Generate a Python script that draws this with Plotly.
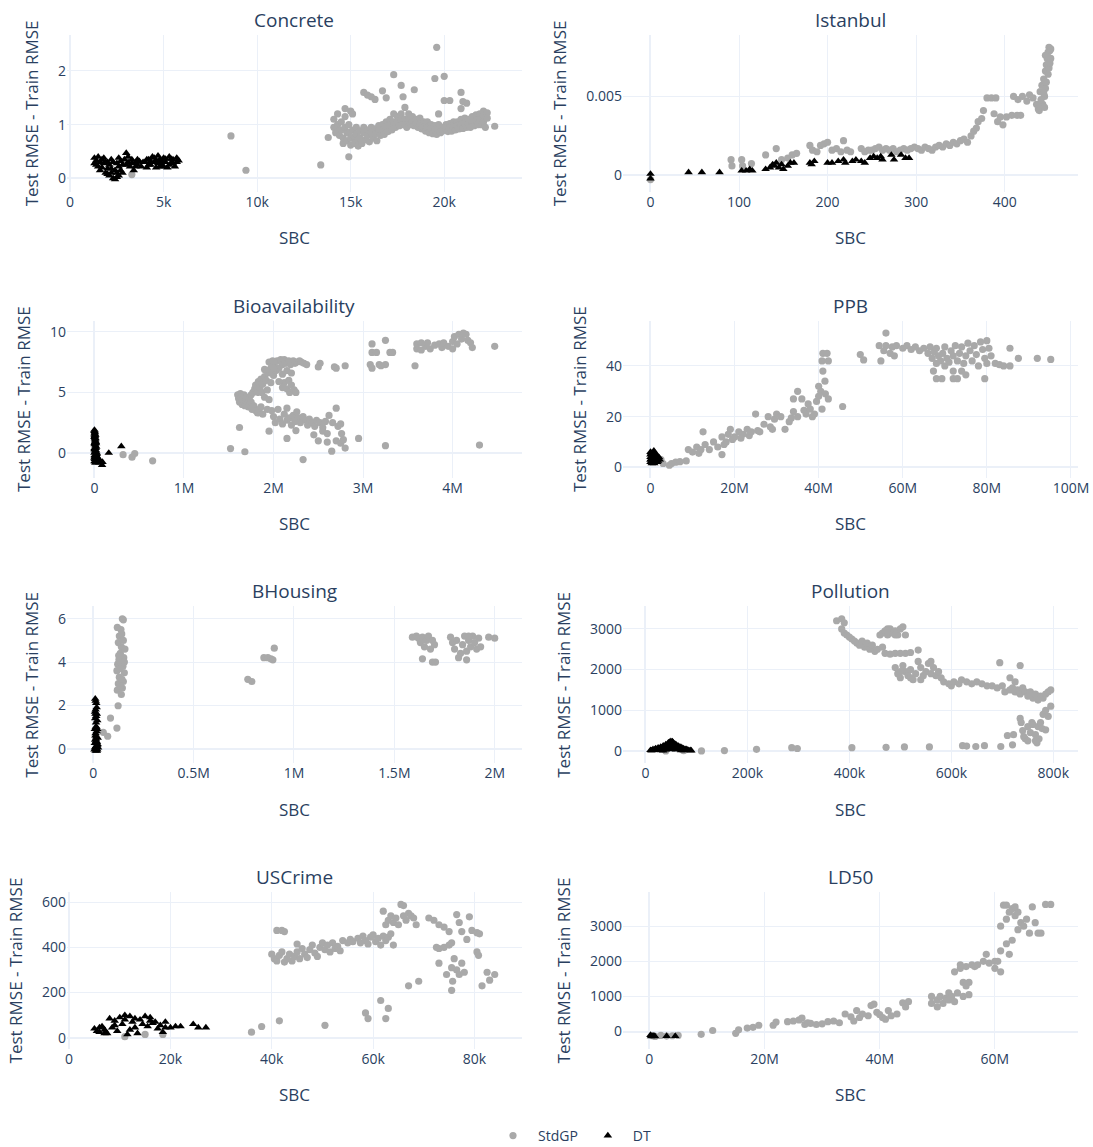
import plotly.graph_objects as go
from plotly.subplots import make_subplots

# (SBC, Test RMSE - Train RMSE) pairs per dataset and method

concrete_gp = [
    (3300, 0.07), (8600, 0.79), (9400, 0.15), (13400, 0.25), (13800, 0.76), (14600, 0.65), (14900, 0.40),
    (14700, 1.30), (15000, 1.25), (15700, 1.60), (15900, 1.55), (16100, 1.52), (16300, 1.47), (16700, 1.63),
    (16900, 1.50), (17300, 1.93), (17700, 1.73), (17800, 1.52), (17900, 1.32), (18400, 1.65), (19500, 1.86),
    (19600, 2.44), (20000, 1.90), (19700, 1.20), (20000, 1.45), (20300, 1.45), (20900, 1.60), (21000, 1.43),
    (21200, 1.40), (20900, 1.30), (22700, 0.97),
    (14100, 1.10), (14100, 0.95), (14200, 0.85), (14300, 1.20), (14300, 1.00), (14400, 0.90), (14400, 0.80),
    (14500, 1.05), (14500, 0.90), (14600, 0.75), (14700, 1.15), (14700, 0.95), (14800, 0.85), (14800, 0.70),
    (14900, 1.00), (14900, 0.85), (15000, 0.75), (15000, 0.62), (15100, 1.20), (15100, 0.90), (15200, 0.78),
    (15200, 0.65), (15300, 0.95), (15300, 0.82), (15400, 0.70), (15400, 0.60), (15500, 0.88), (15500, 0.75),
    (15600, 0.65), (15700, 0.95), (15700, 0.85), (15800, 0.72), (15900, 0.90), (15900, 0.80), (16000, 0.68),
    (16100, 0.95), (16100, 0.85), (16200, 0.75), (16300, 0.92), (16300, 0.82), (16400, 0.70), (16500, 0.98),
    (16500, 0.88), (16600, 0.80), (16700, 1.00), (16700, 0.90), (16800, 0.82), (16900, 1.05), (16900, 0.95),
    (17000, 0.87), (17100, 1.10), (17100, 1.00), (17200, 0.90), (17300, 1.20), (17300, 1.05), (17400, 0.95),
    (17500, 1.15), (17500, 1.05), (17600, 0.98), (17700, 1.20), (17700, 1.10), (17800, 1.00), (17900, 1.10),
    (17900, 1.00), (18000, 0.95), (18100, 1.20), (18100, 1.08), (18200, 1.00), (18300, 1.15), (18300, 1.05),
    (18400, 0.98), (18500, 1.10), (18500, 1.02), (18600, 0.95), (18700, 1.12), (18700, 1.00), (18800, 0.92),
    (18900, 1.05), (18900, 0.95), (19000, 0.88), (19100, 1.05), (19100, 0.95), (19200, 0.85), (19300, 1.00),
    (19300, 0.92), (19400, 0.83), (19500, 0.98), (19500, 0.90), (19600, 0.82), (19700, 1.00), (19700, 0.92),
    (19800, 0.85), (19900, 0.95), (19900, 0.88), (20100, 1.00), (20100, 0.93), (20200, 0.87), (20300, 1.02),
    (20300, 0.95), (20400, 0.88), (20500, 1.05), (20500, 0.97), (20600, 0.90), (20700, 1.05), (20700, 0.98),
    (20800, 0.92), (20900, 1.10), (20900, 1.00), (21000, 0.93), (21100, 1.12), (21100, 1.03), (21200, 0.95),
    (21300, 1.10), (21300, 1.00), (21400, 0.95), (21500, 1.15), (21500, 1.05), (21600, 0.98), (21700, 1.18),
    (21700, 1.08), (21800, 1.00), (21900, 1.20), (21900, 1.10), (22000, 1.00), (22100, 1.25), (22100, 1.15),
    (22100, 1.05), (22200, 0.95), (22300, 1.22), (22300, 1.12),
]
concrete_dt = [
    (1300, 0.38), (1500, 0.40), (1400, 0.25), (1600, 0.30), (1700, 0.20), (1800, 0.38), (1900, 0.10),
    (2000, 0.30), (2100, 0.05), (2200, 0.35), (2200, 0.18), (2300, 0.00), (2400, -0.02), (2500, 0.10),
    (2500, 0.28), (2600, 0.38), (2700, 0.15), (2800, 0.25), (2900, 0.35), (3000, 0.47), (3100, 0.30),
    (3200, 0.22), (3300, 0.35), (3400, 0.15), (3500, 0.30), (3600, 0.25), (3700, 0.32), (3800, 0.22),
    (4000, 0.30), (4200, 0.35), (4300, 0.25), (4400, 0.40), (4500, 0.30), (4600, 0.20), (4700, 0.42),
    (4800, 0.35), (4900, 0.25), (5000, 0.38), (5100, 0.30), (5200, 0.20), (5300, 0.40), (5400, 0.28),
    (5500, 0.35), (5600, 0.22), (5700, 0.38), (5800, 0.33), (1600, 0.15), (2000, 0.08), (1800, 0.28),
    (2700, 0.32), (4100, 0.20), (4600, 0.33), (5000, 0.22),
    (1400, 0.33), (1500, 0.22), (1700, 0.35), (1900, 0.30), (2000, 0.18), (2100, 0.25), (2300, 0.30),
    (2400, 0.15), (2600, 0.05), (2600, 0.22), (2800, 0.10), (3000, 0.25), (3100, 0.40), (3300, 0.28),
    (3500, 0.22), (3900, 0.30), (4100, 0.35), (4300, 0.32), (4500, 0.38), (4700, 0.28), (4900, 0.32),
    (5100, 0.36), (5300, 0.25), (5500, 0.28), (5700, 0.30), (1300, 0.28), (2200, 0.10), (2500, 0.02),
    (3600, 0.35), (4200, 0.25), (4800, 0.22), (5400, 0.36),
]

istanbul_gp = [
    (0, -0.00026), (91, 0.0010), (92, 0.0006), (103, 0.0010), (104, 0.0006), (114, 0.00075), (130, 0.0013),
    (142, 0.0017), (148, 0.0010), (155, 0.0011), (160, 0.0013), (165, 0.0014), (180, 0.0019), (183, 0.0016),
    (188, 0.0015), (192, 0.0019), (196, 0.0020), (200, 0.0021), (205, 0.0016), (210, 0.0017), (215, 0.0015),
    (218, 0.0022), (222, 0.0016), (226, 0.0015), (238, 0.0017), (242, 0.0015), (246, 0.0016), (250, 0.0016),
    (254, 0.0017), (258, 0.0018), (262, 0.0016), (266, 0.0017), (270, 0.0016), (274, 0.0017), (278, 0.0015),
    (282, 0.0016), (286, 0.0017), (290, 0.0016), (294, 0.0017), (298, 0.0018), (302, 0.0017), (306, 0.0016),
    (310, 0.0018), (314, 0.0017), (318, 0.0016), (322, 0.0018), (326, 0.0019), (330, 0.0018), (334, 0.0020),
    (338, 0.0019), (342, 0.0021), (346, 0.0020), (350, 0.0022), (354, 0.0023), (358, 0.0021), (362, 0.0025),
    (365, 0.0028), (368, 0.0030), (370, 0.0034), (374, 0.0036), (376, 0.0041), (380, 0.0049), (385, 0.0049),
    (390, 0.0049), (388, 0.0039), (392, 0.0034), (395, 0.0037), (398, 0.0032), (402, 0.0037), (408, 0.0038),
    (414, 0.0038), (418, 0.0038), (410, 0.0050), (415, 0.0048), (420, 0.0050), (425, 0.0047), (428, 0.0051),
    (432, 0.0049), (436, 0.0045), (438, 0.0042), (440, 0.0044), (440, 0.0053), (442, 0.0057), (444, 0.0061),
    (445, 0.0050), (446, 0.0066), (447, 0.0070), (448, 0.0074), (449, 0.0078), (450, 0.0081), (451, 0.0079),
    (446, 0.0055), (443, 0.0045), (450, 0.0068), (452, 0.0074), (441, 0.0048), (444, 0.0052), (447, 0.0059),
    (449, 0.0064), (451, 0.0071), (446, 0.0076), (452, 0.0080), (439, 0.0041), (445, 0.0043),
]
istanbul_dt = [
    (0, 0.0001), (0, -0.0002), (43, 0.0002), (58, 0.0002), (78, 0.0002), (103, 0.0003), (108, 0.0003),
    (112, 0.0004), (115, 0.0003), (130, 0.0004), (135, 0.0005), (138, 0.0007), (140, 0.0006), (142, 0.0008),
    (145, 0.0005), (148, 0.0007), (150, 0.0004), (155, 0.0006), (158, 0.0008), (162, 0.0008), (180, 0.0008),
    (182, 0.0007), (185, 0.0009), (200, 0.0008), (205, 0.0008), (212, 0.0009), (218, 0.0010), (220, 0.0008),
    (228, 0.0009), (232, 0.0010), (238, 0.0009), (242, 0.0008), (248, 0.0011), (252, 0.0012), (256, 0.0011),
    (260, 0.0012), (262, 0.0010), (272, 0.0013), (275, 0.0010), (283, 0.0013), (288, 0.0011), (292, 0.0011),
]

bioavailability_gp = [
    (320000, -0.14), (420000, -0.35), (450000, -0.05), (650000, -0.65), (1520000, 0.36), (1680000, 0.10),
    (1620000, 2.10), (1950000, 1.80), (2150000, 1.20), (2250000, 1.85), (2330000, -0.55), (2500000, 1.00),
    (2600000, 0.90), (2650000, 0.15), (2700000, 1.00), (2750000, 0.80), (2780000, 1.10), (2800000, 0.40),
    (2950000, 1.20), (3250000, 0.60), (4300000, 0.65), (4470000, 8.80),
    (1600000, 4.8), (1610000, 4.5), (1620000, 4.2), (1630000, 4.9), (1640000, 4.6), (1650000, 4.0),
    (1660000, 4.4), (1670000, 4.8), (1680000, 3.9), (1690000, 4.3), (1700000, 4.6), (1710000, 4.1),
    (1720000, 3.8), (1730000, 4.4), (1740000, 4.0), (1750000, 4.2), (1760000, 3.6), (1780000, 3.9),
    (1800000, 3.5), (1820000, 3.3), (1840000, 3.6), (1860000, 3.8), (1880000, 3.2),
    (1750000, 4.8), (1770000, 5.0), (1790000, 5.3), (1800000, 5.6), (1820000, 5.0), (1830000, 5.9),
    (1850000, 5.4), (1860000, 6.1), (1870000, 5.0), (1880000, 5.7), (1900000, 6.3), (1900000, 4.6),
    (1920000, 6.0), (1930000, 5.2), (1940000, 6.6), (1950000, 4.4), (1960000, 6.9), (1970000, 5.8),
    (1980000, 7.2), (2000000, 6.4), (2010000, 7.4), (2030000, 6.8), (2040000, 7.6), (2060000, 7.0),
    (2080000, 7.7), (2100000, 7.3), (2100000, 6.5), (2120000, 7.7), (2140000, 7.4), (2150000, 6.8),
    (2170000, 7.6), (2190000, 7.3), (2200000, 6.6), (2220000, 7.6), (2240000, 7.4), (2260000, 7.5),
    (2290000, 7.6), (2310000, 7.5), (2340000, 7.4), (2370000, 7.3), (2500000, 7.1), (2520000, 7.4),
    (2680000, 7.1), (2700000, 7.0), (2800000, 7.2), (1950000, 7.5), (1990000, 7.6), (2000000, 7.0),
    (1900000, 6.9),
    (2120000, 5.8), (2150000, 5.3), (2170000, 6.0), (2180000, 5.0), (2200000, 5.6), (2230000, 5.2),
    (2250000, 5.0), (2100000, 5.4), (2060000, 5.9),
    (1930000, 3.6), (1980000, 3.5), (2000000, 3.0), (2020000, 2.5), (2050000, 3.6), (2070000, 2.8),
    (2100000, 2.4), (2120000, 3.2), (2150000, 3.7), (2150000, 2.7), (2180000, 2.9), (2200000, 2.3),
    (2220000, 3.1), (2240000, 2.6), (2260000, 3.4), (2280000, 2.9), (2300000, 2.5), (2330000, 3.0),
    (2360000, 2.7), (2380000, 2.3), (2400000, 2.8), (2430000, 2.5), (2460000, 2.2), (2480000, 2.7),
    (2520000, 2.5), (2550000, 2.1), (2580000, 2.6), (2620000, 3.1), (2660000, 2.5), (2700000, 3.7),
    (2720000, 2.2), (2750000, 2.4), (2760000, 1.6), (2600000, 1.6), (2550000, 1.8), (2450000, 1.5),
    (3100000, 9.0), (3100000, 8.3), (3080000, 7.3), (3100000, 7.0), (3150000, 8.3), (3180000, 7.3),
    (3200000, 7.2), (3250000, 9.3), (3250000, 7.3), (3300000, 8.3), (3330000, 8.3), (3580000, 7.2),
    (3600000, 8.6), (3600000, 9.0), (3650000, 8.5), (3650000, 9.1), (3700000, 8.8), (3720000, 9.1),
    (3750000, 8.6), (3800000, 8.9), (3850000, 9.0), (3880000, 8.7), (3900000, 9.1), (3950000, 8.8),
    (4000000, 8.6), (4000000, 9.2), (4020000, 9.6), (4050000, 9.0), (4070000, 9.8), (4100000, 9.4),
    (4120000, 9.9), (4150000, 9.8), (4170000, 9.3), (4200000, 9.1), (4220000, 8.7),
]
bioavailability_dt = [
    (0, 1.9), (5000, 1.7), (10000, 1.5), (0, 1.3), (8000, 1.1), (15000, 0.9), (5000, 0.7), (20000, 0.5),
    (0, 0.3), (10000, 0.1), (25000, -0.1), (5000, -0.3), (15000, -0.5), (30000, -0.6), (0, -0.7),
    (40000, -0.75), (60000, -0.7), (90000, -0.75), (85000, -1.0), (160000, 0.0), (300000, 0.55),
    (12000, 1.2), (3000, 0.4), (20000, -0.2), (8000, -0.8), (2000, 1.6), (18000, 0.2), (35000, -0.4),
    (50000, -0.6), (0, 1.8), (3000, 1.5), (6000, 1.2), (9000, 0.9), (12000, 0.6), (0, 0.0), (4000, -0.5),
    (7000, 0.2), (11000, -0.3), (14000, 0.4), (17000, 0.8), (22000, -0.6), (26000, 0.0), (30000, -0.3),
    (45000, -0.5), (55000, -0.8), (70000, -0.7), (10000, 1.0), (2000, -0.2), (0, 0.8), (5000, 1.4),
    (0, -0.4), (20000, -0.8),
]

ppb_gp = [
    (2500000, 3.0), (3000000, 1.5), (4500000, 0.8), (5000000, 1.5), (6000000, 2.0), (7000000, 2.2),
    (8500000, 2.5), (9000000, 7.0), (10000000, 6.0), (11000000, 8.0), (11500000, 5.5), (12000000, 7.0),
    (12500000, 14.0), (13000000, 9.0), (14000000, 7.0), (15000000, 10.0), (16000000, 8.0), (17000000, 5.0),
    (17000000, 12.0), (17500000, 9.0), (18000000, 10.0), (18500000, 13.0), (19000000, 15.0),
    (19500000, 11.0), (20000000, 12.0), (21000000, 14.0), (21500000, 11.5), (22000000, 13.0),
    (23000000, 15.0), (23500000, 12.5), (24000000, 14.0), (25000000, 21.0), (25500000, 14.5),
    (26000000, 14.0), (27000000, 17.0), (28000000, 20.0), (28500000, 16.0), (29000000, 15.0),
    (29500000, 19.0), (30000000, 21.0), (31000000, 20.0), (32000000, 15.0), (33000000, 18.0),
    (33500000, 19.5), (34000000, 22.0), (34000000, 27.0), (35000000, 30.0), (35000000, 20.0),
    (36000000, 27.0), (36500000, 22.5), (37000000, 21.0), (37500000, 25.0), (38000000, 23.0),
    (38500000, 20.0), (39000000, 21.0), (39500000, 26.0), (40000000, 28.0), (40000000, 32.0),
    (40500000, 30.0), (40800000, 42.0), (41000000, 45.0), (41000000, 38.0), (41500000, 34.0),
    (42000000, 45.0), (42300000, 42.0), (42300000, 27.0), (40800000, 23.0), (41600000, 29.0),
    (45700000, 24.0), (49900000, 44.5), (50700000, 42.4), (56000000, 53.0), (54800000, 42.0),
    (54400000, 48.0), (56000000, 48.0), (57500000, 47.5), (58500000, 48.0), (55500000, 46.0),
    (57000000, 45.0), (58000000, 44.0),
    (60000000, 47.0), (61000000, 48.0), (62000000, 46.5), (63000000, 47.5), (64000000, 46.0),
    (65000000, 47.0), (66000000, 45.0), (66500000, 47.5), (67000000, 43.0), (67500000, 45.5),
    (68000000, 41.0), (68000000, 47.0), (68500000, 44.0), (69000000, 42.0), (69500000, 45.0),
    (70000000, 40.0), (70000000, 47.5), (70500000, 43.0), (71000000, 41.5), (71500000, 46.0),
    (72000000, 44.0), (72500000, 48.0), (73000000, 42.0), (73500000, 45.0), (74000000, 47.5),
    (74500000, 41.0), (75000000, 44.0), (75500000, 49.0), (76000000, 46.0), (76500000, 42.0),
    (77000000, 48.0), (77500000, 44.5), (78000000, 40.0), (78500000, 49.5), (79000000, 46.5),
    (79500000, 43.0), (80000000, 50.0), (80500000, 47.0), (81000000, 44.0), (80000000, 41.0),
    (82000000, 41.0), (83000000, 40.5), (84000000, 40.0), (85500000, 47.0), (85500000, 40.0),
    (87500000, 43.0), (92000000, 43.0), (95200000, 42.6),
    (67300000, 38.0), (68000000, 35.0), (69300000, 35.0), (72000000, 35.0), (73000000, 35.0),
    (72000000, 38.0), (74000000, 38.0), (79500000, 35.0), (75000000, 36.5),
]
ppb_dt = [
    (0, 2.0), (0, 4.0), (0, 6.0), (500000, 5.0), (500000, 3.0), (1000000, 4.5), (1000000, 2.0),
    (1500000, 3.5), (2000000, 4.0), (300000, 1.5), (800000, 6.5), (200000, 5.5), (1200000, 3.0),
    (600000, 2.5), (1800000, 2.5), (300000, 3.5), (700000, 4.0), (1300000, 5.0), (100000, 3.0),
    (900000, 1.5), (1600000, 2.0), (400000, 4.5), (1100000, 5.5), (0, 3.0), (0, 5.0), (2200000, 3.0),
    (1700000, 4.5),
]

bhousing_gp = [
    (50000, 0.75), (72000, 0.57), (86000, 1.41), (118000, 0.95), (124000, 1.98),
    (120000, 2.7), (125000, 3.0), (130000, 3.3), (118000, 3.6), (122000, 3.9), (128000, 4.1), (135000, 4.4),
    (140000, 4.7), (125000, 4.9), (130000, 5.2), (138000, 5.5), (120000, 5.6), (145000, 6.0), (150000, 5.95),
    (140000, 2.5), (145000, 2.8), (150000, 3.1), (155000, 3.5), (148000, 3.8), (152000, 4.2), (158000, 4.6),
    (150000, 5.0), (142000, 5.3), (132000, 3.7), (138000, 4.0), (127000, 4.3), (143000, 3.2), (155000, 4.0),
    (135000, 2.9),
    (770000, 3.2), (790000, 3.1), (850000, 4.2), (870000, 4.2), (885000, 4.15), (895000, 4.1), (902000, 4.64),
    (1590000, 5.15), (1610000, 5.2), (1620000, 5.1), (1630000, 4.9), (1640000, 5.15), (1650000, 4.7),
    (1660000, 5.0), (1670000, 5.2), (1680000, 4.6), (1690000, 5.0), (1700000, 4.8), (1640000, 4.15),
    (1690000, 4.0), (1705000, 4.0),
    (1780000, 5.15), (1790000, 4.9), (1800000, 4.6), (1810000, 5.0), (1820000, 4.2), (1830000, 4.4),
    (1840000, 4.8), (1850000, 5.2), (1860000, 4.5), (1870000, 5.0), (1880000, 4.7), (1890000, 5.2),
    (1900000, 4.9), (1910000, 4.6), (1920000, 5.1), (1930000, 4.7), (1860000, 4.1), (1870000, 5.2),
    (1970000, 5.15), (2000000, 5.1),
]
bhousing_dt = [
    (10000, 2.3), (15000, 2.1), (12000, 1.8), (18000, 1.6), (10000, 1.4), (14000, 1.2), (20000, 0.9),
    (12000, 0.7), (16000, 0.55), (10000, 0.4), (18000, 0.3), (14000, 0.1), (12000, -0.1), (20000, -0.05),
    (8000, 0.25), (22000, 0.5), (15000, 1.5), (16000, 0.0), (12000, 2.2), (17000, 1.9), (9000, 1.7),
    (20000, 1.3), (13000, 1.0), (17000, 0.8), (8000, 0.9), (11000, 0.6), (19000, 0.15), (9000, 0.05),
    (22000, 0.2), (15000, 0.35), (24000, 0.05), (6000, -0.05), (18000, -0.1), (13000, 0.45), (11000, 1.6),
    (16000, 1.0),
]

pollution_gp = [
    (40000, 0), (75000, 5), (110000, 0), (155000, 10), (218000, 40), (287000, 80), (298000, 60),
    (405000, 80), (472000, 90), (508000, 100), (557000, 100), (622000, 130), (630000, 120), (648000, 110),
    (665000, 130), (697000, 110),
    (710000, 380), (720000, 150), (722000, 400), (735000, 800), (737000, 700), (740000, 500), (742000, 350),
    (745000, 300), (750000, 600), (755000, 450), (758000, 700), (760000, 650), (765000, 400), (768000, 200),
    (770000, 600), (772000, 300), (775000, 700), (778000, 550), (785000, 520), (780000, 900), (785000, 1000),
    (790000, 850), (795000, 1100), (765000, 250), (750000, 250),
    (375000, 3200), (385000, 3250), (390000, 3150), (385000, 3000), (390000, 2900), (395000, 2850),
    (400000, 2800), (405000, 2750), (410000, 2700), (415000, 2650), (420000, 2600), (425000, 2700),
    (430000, 2550), (435000, 2650), (440000, 2500), (445000, 2600), (450000, 2450), (455000, 2500),
    (465000, 2550),
    (460000, 2850), (465000, 2900), (470000, 2950), (475000, 2850), (480000, 3000), (485000, 2900),
    (490000, 2950), (495000, 2850), (500000, 3000), (505000, 3050), (510000, 2850), (475000, 3000),
    (490000, 2850),
    (470000, 2400), (480000, 2380), (490000, 2400), (500000, 2400), (510000, 2400), (520000, 2420),
    (535000, 2480),
    (490000, 2050), (495000, 1900), (500000, 1800), (505000, 2100), (510000, 1950), (515000, 1850),
    (520000, 2000), (525000, 1750), (530000, 1900), (535000, 2200), (540000, 2050), (545000, 1850),
    (550000, 1950), (555000, 2150), (560000, 1900), (565000, 2050), (570000, 1850), (575000, 1950),
    (580000, 1800), (540000, 1750), (520000, 1800), (560000, 2200), (500000, 1950),
    (585000, 1700), (595000, 1650), (600000, 1600), (605000, 1700), (615000, 1650), (620000, 1750),
    (630000, 1700), (640000, 1650), (650000, 1700), (660000, 1650), (670000, 1600), (680000, 1600),
    (690000, 1550), (700000, 1600), (705000, 1450), (715000, 1500), (720000, 1550), (725000, 1450),
    (730000, 1500), (735000, 1400), (740000, 1550), (745000, 1450), (750000, 1350), (755000, 1450),
    (760000, 1300), (765000, 1400), (770000, 1250), (775000, 1350), (780000, 1300), (785000, 1400),
    (790000, 1450), (795000, 1500),
    (695000, 2170), (735000, 2100), (715000, 1800), (725000, 1700),
]
pollution_dt = [
    (10000, 20), (15000, 40), (20000, 60), (25000, 80), (30000, 100), (35000, 130), (40000, 160),
    (45000, 200), (50000, 240), (55000, 200), (60000, 160), (65000, 120), (70000, 90), (75000, 60),
    (80000, 40), (85000, 20), (90000, 10), (20000, 20), (30000, 40), (40000, 60), (50000, 80), (60000, 60),
    (70000, 40), (80000, 20), (35000, 10), (55000, 120), (45000, 100), (25000, 30), (65000, 50),
    (75000, 15), (50000, 170), (12000, 10), (18000, 30), (22000, 45), (28000, 60), (32000, 75),
    (38000, 110), (42000, 140), (48000, 180), (52000, 210), (58000, 170), (62000, 130), (68000, 100),
    (72000, 70), (78000, 45), (82000, 30), (88000, 15), (30000, 15), (40000, 30), (50000, 40), (60000, 30),
    (70000, 15), (45000, 150), (55000, 160), (40000, 120), (60000, 110), (35000, 70), (65000, 80),
    (50000, 130), (47000, 220), (53000, 230),
]

uscrime_gp = [
    (11000, 5), (15000, 15), (18500, 15), (36000, 25), (38000, 50), (41500, 75), (50500, 55), (58500, 110),
    (59000, 85), (61500, 165), (62500, 85), (63000, 130), (67000, 230), (69000, 250), (41000, 475),
    (42000, 475), (42500, 470), (45000, 415),
    (40000, 370), (40500, 350), (41000, 340), (41500, 365), (42000, 380), (42500, 335), (43000, 350),
    (43500, 370), (44000, 340), (44500, 360), (45000, 380), (45500, 350), (46000, 395), (46500, 370),
    (47000, 355), (47500, 390), (48000, 410), (48500, 375), (49000, 360), (49500, 400), (50000, 420),
    (50500, 390), (51000, 410), (51500, 380), (52000, 420), (52500, 395), (53000, 405), (53500, 385),
    (54000, 430), (55000, 420), (55500, 435), (56000, 425), (57000, 440), (57500, 420), (58000, 450),
    (58500, 430), (59000, 415), (59500, 445), (60000, 455), (60500, 425), (61000, 440), (61500, 410),
    (62000, 450), (62500, 430), (63000, 445), (63500, 460), (64000, 410),
    (62000, 560), (62500, 500), (63000, 520), (63500, 540), (64000, 510), (64500, 530), (65000, 500),
    (65500, 590), (66000, 585), (66000, 540), (66500, 520), (67000, 550), (67500, 540), (68000, 530),
    (68500, 500), (71000, 530), (72000, 520), (73000, 500), (74000, 490), (75000, 470),
    (72500, 400), (73000, 395), (74000, 400), (75000, 410), (75500, 420), (76000, 350), (76500, 300),
    (77000, 280), (77500, 330), (78000, 290), (73000, 330), (74500, 280), (75500, 310), (75700, 250),
    (75500, 210), (76500, 545), (77000, 510), (77500, 470), (78500, 435), (79000, 535), (79500, 475),
    (80500, 465), (81000, 460), (80500, 380), (80800, 365), (81500, 230), (82500, 290), (83000, 255),
    (84000, 280),
]
uscrime_dt = [
    (5000, 40), (5500, 30), (6000, 25), (6500, 50), (7000, 35), (7500, 20), (8000, 85), (8500, 45),
    (9000, 75), (9500, 30), (10000, 90), (10500, 60), (11000, 100), (11500, 15), (12000, 95), (12500, 70),
    (13000, 85), (13500, 20), (14000, 80), (14500, 60), (15000, 95), (15500, 50), (16000, 75), (16500, 65),
    (17000, 70), (17500, 40), (18000, 55), (18500, 25), (19000, 45), (20000, 45), (21000, 50), (22000, 50),
    (24500, 60), (25500, 45), (27000, 45), (6000, 45), (7000, 20), (9000, 55), (11000, 80), (13000, 45),
    (12000, 35), (16000, 90), (19000, 70),
]

ld50_gp = [
    (500000, -120), (1000000, -140), (2000000, -110), (3000000, -130), (4000000, -120), (5000000, -110),
    (9000000, -80), (11000000, 30), (15000000, -50), (15500000, 50), (17000000, 100), (18000000, 120),
    (19000000, 180), (21500000, 180), (22000000, 270), (24000000, 280), (25000000, 300), (26000000, 330),
    (26500000, 380), (27000000, 200), (27500000, 250), (28000000, 230), (29000000, 200), (30000000, 220),
    (31000000, 280), (32000000, 300), (33000000, 250), (34000000, 500), (35000000, 420), (35500000, 300),
    (36000000, 600), (36500000, 400), (37000000, 500), (38000000, 450), (38500000, 740), (39000000, 780),
    (39500000, 550), (40000000, 480), (40500000, 400), (41000000, 350), (41500000, 600), (42000000, 450),
    (43000000, 500), (44000000, 820), (45000000, 850), (44500000, 700),
    (49000000, 800), (49000000, 1000), (50000000, 700), (50000000, 900), (50500000, 1000), (51000000, 800),
    (51500000, 950), (52000000, 900), (52000000, 1100), (52500000, 1000), (53000000, 1700), (53000000, 850),
    (53500000, 1100), (54000000, 1800), (54000000, 1900), (54500000, 1400), (54500000, 1000),
    (55000000, 1300), (55000000, 1850), (55500000, 1400), (55500000, 1050), (56000000, 1900),
    (56500000, 1850), (57000000, 1900), (58000000, 2000), (58500000, 2200), (59000000, 1950),
    (60000000, 1800), (60000000, 2000), (60500000, 2000), (61000000, 2300), (61000000, 1700),
    (62000000, 2500), (62500000, 2200), (63000000, 2600), (61000000, 3000), (61500000, 3600),
    (62000000, 3600), (62500000, 3400), (63000000, 3500), (63500000, 3300), (64000000, 3400),
    (64500000, 3100), (65000000, 3000), (65500000, 3200), (66000000, 2800), (66500000, 3550),
    (67000000, 3100), (67500000, 2800), (68000000, 2800), (68800000, 3620), (69700000, 3620),
    (62000000, 3200), (63500000, 3550), (64000000, 2900),
]
ld50_dt = [
    (200000, -100), (500000, -130), (800000, -120), (1000000, -140), (300000, -135), (3000000, -130),
    (4500000, -130),
]

titles = ["Concrete", "Istanbul", "Bioavailability", "PPB", "BHousing", "Pollution", "USCrime", "LD50"]
panels = [
    (concrete_gp, concrete_dt), (istanbul_gp, istanbul_dt),
    (bioavailability_gp, bioavailability_dt), (ppb_gp, ppb_dt),
    (bhousing_gp, bhousing_dt), (pollution_gp, pollution_dt),
    (uscrime_gp, uscrime_dt), (ld50_gp, ld50_dt),
]

fig = make_subplots(rows=4, cols=2, subplot_titles=titles,
                    horizontal_spacing=0.1, vertical_spacing=0.127)

for i, (gp, dt) in enumerate(panels):
    r, c = i // 2 + 1, i % 2 + 1
    fig.add_trace(go.Scatter(
        x=[p[0] for p in gp], y=[p[1] for p in gp], mode="markers",
        name="StdGP", legendgroup="StdGP", showlegend=(i == 0),
        marker=dict(color="darkgray", size=7.2, symbol="circle"),
    ), row=r, col=c)
    fig.add_trace(go.Scatter(
        x=[p[0] for p in dt], y=[p[1] for p in dt], mode="markers",
        name="DT", legendgroup="DT", showlegend=(i == 0),
        marker=dict(color="black", size=7.5, symbol="triangle-up"),
    ), row=r, col=c)
    fig.update_xaxes(title_text="SBC", title_font_size=17, title_standoff=22, row=r, col=c)
    fig.update_yaxes(title_text="Test RMSE - Train RMSE", title_font_size=17, row=r, col=c)

fig.update_yaxes(dtick=0.005, row=1, col=2)
fig.update_annotations(font_size=19)

fig.update_layout(
    template="plotly_white",
    width=1093, height=1147,
    font=dict(size=14),
    margin=dict(l=67, r=15, t=35, b=98, autoexpand=False),
    legend=dict(orientation="h", x=0.5, xanchor="center", y=-0.070, yanchor="top",
                itemwidth=40, font=dict(size=14)),
)

fig.write_html("out.html")
